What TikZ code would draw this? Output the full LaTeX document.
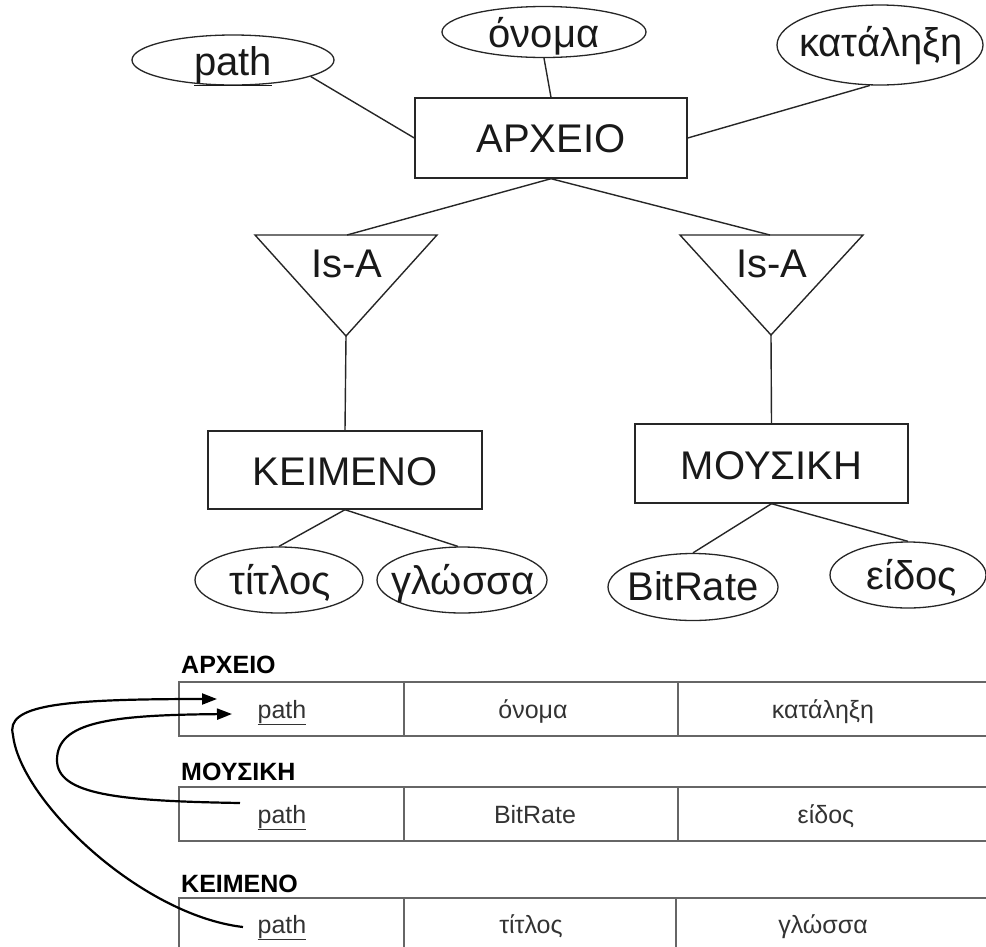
\documentclass[tikz,border=0pt]{standalone}
\usepackage{fontspec}
\setmainfont{Liberation Sans}
\usetikzlibrary{shapes.geometric,arrows.meta}
\begin{document}
\begin{tikzpicture}[x=1pt,y=-1pt,
  er/.style={draw=black!85, line width=1.4pt},
  attr/.style={ellipse, draw=black!85, line width=1.3pt, inner sep=0pt},
  ent/.style={rectangle, draw=black!85, line width=1.4pt, inner sep=0pt},
  big/.style={font=\fontsize{40}{48}\selectfont, inner sep=0pt, anchor=base, text=black!90},
  small/.style={font=\fontsize{25}{30}\selectfont, inner sep=0pt, anchor=base, text=black!80},
  lab/.style={font=\bfseries\fontsize{25}{30}\selectfont, inner sep=0pt, anchor=base west},
  tab/.style={draw=black!60, line width=1.8pt},
  flow/.style={draw=black, line width=2.2pt, -{Triangle[length=15pt,width=11pt]}},
]
\useasboundingbox (0,0) rectangle (986,946);
\clip (0,0) rectangle (986,946);

% ---------- entities ----------
\node[ent, minimum width=272pt, minimum height=80pt] (arxeio) at (551,138) {};
\node[big] (arxeioT) at (551,152) {ΑΡΧΕΙΟ};
\node[ent, minimum width=274pt, minimum height=78pt] (keim) at (345,470) {};
\node[big] (keimT) at (345,485) {ΚΕΙΜΕΝΟ};
\node[ent, minimum width=273pt, minimum height=79pt] (mous) at (771.5,463.5) {};
\node[big] (mousT) at (771.5,479) {ΜΟΥΣΙΚΗ};

% ---------- attributes ----------
\node[attr, minimum width=202pt, minimum height=50pt] (pathE) at (233,60) {};
\node[big] (pathT) at (233,75) {\underline{path}};
\node[attr, minimum width=204pt, minimum height=51pt] (onoma) at (544,32) {};
\node[big] (onomaT) at (544,47) {όνομα};
\node[attr, minimum width=206pt, minimum height=80pt] (katal) at (880,45) {};
\node[big] (katalT) at (881,56) {κατάληξη};

\node[attr, minimum width=168pt, minimum height=66pt] (titlos) at (279,580) {};
\node[big] (titlosT) at (280,594) {τίτλος};
\node[attr, minimum width=170pt, minimum height=66pt] (glossa) at (462,580) {};
\node[big] (glossaT) at (463,594) {γλώσσα};
\node[attr, minimum width=170pt, minimum height=67pt] (bitrate) at (693,587) {};
\node[big] (bitrateT) at (693,600) {BitRate};
\node[attr, minimum width=156pt, minimum height=66pt] (eidos) at (908,575) {};
\node[big] (eidosT) at (912,589) {είδος};

% ---------- Is-A triangles ----------
\coordinate (t1l) at (255,235);
\coordinate (t1r) at (437,235);
\coordinate (t1a) at (346,336);
\coordinate (t1top) at (347,235);
\draw[er] (t1l) -- (t1r) -- (t1a) -- cycle;
\node[big] (isa1) at (347,277) {Is-A};

\coordinate (t2l) at (680,235);
\coordinate (t2r) at (863,235);
\coordinate (t2a) at (771,335);
\coordinate (t2top) at (770,235);
\draw[er] (t2l) -- (t2r) -- (t2a) -- cycle;
\node[big] (isa2) at (772,277) {Is-A};

% ---------- connectors ----------
\draw[er] (pathE.-12.5) -- (arxeio.west);
\draw[er] (onoma.south) -- (arxeio.north);
\draw[er] (katal.-104) -- (arxeio.east);
\draw[er] (arxeio.south) -- (t1top);
\draw[er] (arxeio.south) -- (t2top);
\draw[er] (t1a) -- (keim.north);
\draw[er] (t2a) -- (mous.north);
\draw[er] (keim.south) -- (titlos.north);
\draw[er] (keim.south) -- (glossa.97);
\draw[er] (mous.south) -- (bitrate.north);
\draw[er] (mous.south) -- (eidos.north);

% ---------- tables ----------
\node[lab] (labA) at (181,673) {ΑΡΧΕΙΟ};
\draw[tab] (1000,682) -- (179,682) -- (179,736) -- (1000,736);
\draw[tab] (404,682) -- (404,736);
\draw[tab] (678,682) -- (678,736);
\node[small] (apath) at (282,718) {\underline{path}};
\node[small] (aonoma) at (533,718) {όνομα};
\node[small] (akatal) at (823,718) {κατάληξη};

\node[lab] (labM) at (181,780) {ΜΟΥΣΙΚΗ};
\draw[tab] (1000,787) -- (179,787) -- (179,841) -- (1000,841);
\draw[tab] (404,787) -- (404,841);
\draw[tab] (678,787) -- (678,841);
\node[small] (mpath) at (282,823) {\underline{path}};
\node[small] (mbit) at (535,823) {BitRate};
\node[small] (meidos) at (826,823) {είδος};

\node[lab] (labK) at (181,892) {ΚΕΙΜΕΝΟ};
\draw[tab] (1000,898) -- (179,898) -- (179,960);
\draw[tab] (404,898) -- (404,960);
\draw[tab] (676,898) -- (676,960);
\node[small] (kpath) at (282,933) {\underline{path}};
\node[small] (ktitlos) at (531,933) {τίτλος};
\node[small] (kglossa) at (823,933) {γλώσσα};

% ---------- foreign-key arrows ----------
\coordinate (kstart) at (243,927);
\coordinate (atip1) at (217,699);
\coordinate (mstart) at (240,803);
\coordinate (atip2) at (232,714);
\draw[flow] (kstart) .. controls (140,915) and (20,800) .. (13,735)
  .. controls (5,705) and (60,699) .. (atip1);
\draw[flow] (mstart) .. controls (120,801) and (57,795) .. (57,760)
  .. controls (57,722) and (110,715) .. (atip2);
\end{tikzpicture}
\end{document}
